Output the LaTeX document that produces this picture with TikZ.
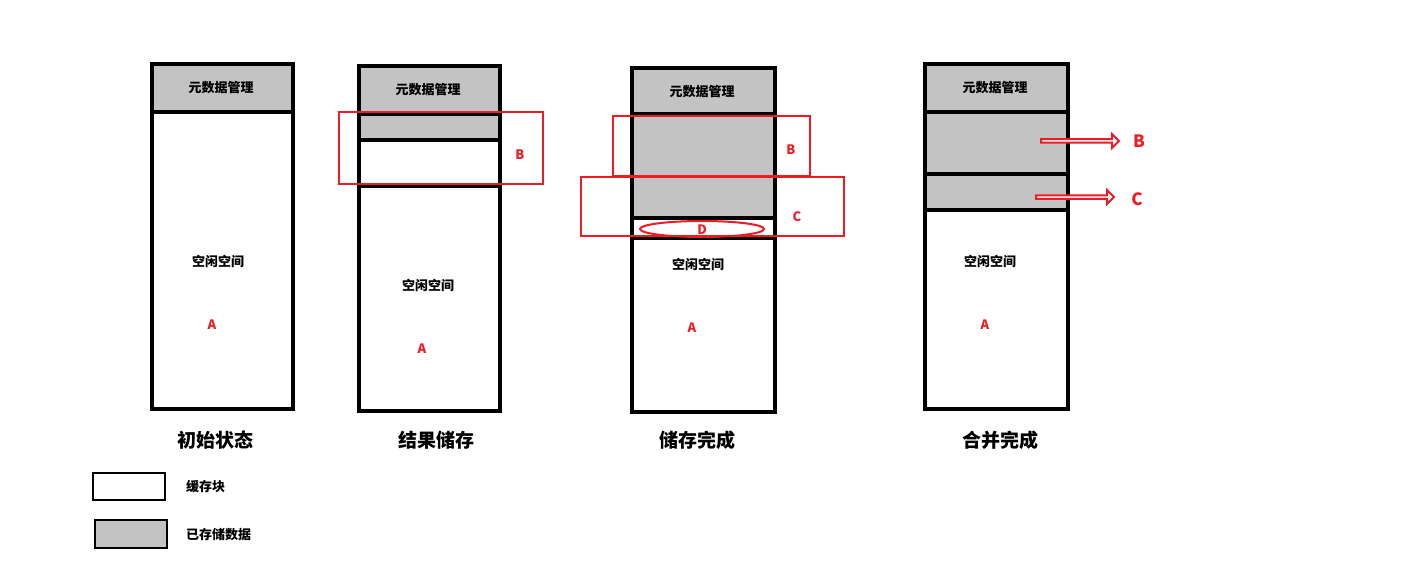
\documentclass[tikz,border=0pt]{standalone}
\usepackage{fontspec}
\setmainfont{Noto Sans CJK SC}
\usetikzlibrary{shapes.arrows}
\definecolor{gr}{RGB}{195,195,195}
\definecolor{rd}{RGB}{237,28,36}
\begin{document}
\begin{tikzpicture}[x=1pt,y=-1pt,
  blk/.style={draw=black,line width=4pt},
  sep/.style={draw=black,line width=3.5pt},
  redbox/.style={draw=rd,line width=2.5pt},
  txt/.style={font=\bfseries\fontsize{13}{13}\selectfont,inner sep=0pt},
  captxt/.style={font=\bfseries\fontsize{19}{19}\selectfont,inner sep=0pt},
  lt/.style={text=rd,font=\bfseries\fontsize{13}{13}\selectfont,inner sep=0pt},
  lb/.style={text=rd,font=\bfseries\fontsize{17}{17}\selectfont,inner sep=0pt},
  harrow/.style={single arrow,draw=rd,line width=2pt,fill=white,minimum height=78pt,minimum width=14pt,single arrow head extend=3pt,inner sep=0pt,anchor=west}]
\useasboundingbox (0,0) rectangle (1419,583);
% column 1
\fill[gr] (152,64) rectangle (293,112);
\draw[sep] (152,112) -- (293,112);
\draw[blk] (152,64) rectangle (293,409);
\node[txt] (h1) at (221,88) {元数据管理};
\node[txt] (f1) at (218,262) {空闲空间};
\node[lt] (a1) at (212,325) {A};
\node[captxt] (c1) at (215,440) {初始状态};
% column 2
\fill[gr] (359,66) rectangle (500,140);
\draw[sep] (359,114) -- (500,114);
\draw[sep] (359,140) -- (500,140);
\draw[sep] (359,186) -- (500,186);
\draw[blk] (359,66) rectangle (500,411);
\node[txt] (h2) at (428,90) {元数据管理};
\node[txt] (f2) at (428,286) {空闲空间};
\node[lt] (a2) at (422,349) {A};
\draw[redbox] (339,112) rectangle (543,184);
\node[lt] (b2) at (520,155) {B};
\node[captxt] (c2) at (436,440) {结果储存};
% column 3
\fill[gr] (632,68) rectangle (775,218);
\draw[sep] (632,114) -- (775,114);
\draw[sep] (632,218) -- (775,218);
\draw[sep] (632,238) -- (775,238);
\draw[blk] (632,68) rectangle (775,412);
\node[txt] (h3) at (702,92) {元数据管理};
\draw[redbox] (613,116) rectangle (810,176);
\draw[redbox] (581,177) rectangle (844,236);
\draw[rd,line width=2pt] (702,229) ellipse (62pt and 8pt);
\node[lt] (d3) at (702,230) {D};
\node[lt] (b3) at (791,150) {B};
\node[lt] (cc3) at (797,217) {C};
\node[txt] (f3) at (698,265) {空闲空间};
\node[lt] (a3) at (692,328) {A};
\node[captxt] (c3) at (697,440) {储存完成};
% column 4
\fill[gr] (925,64) rectangle (1068,210);
\draw[sep] (925,112) -- (1068,112);
\draw[sep] (925,174) -- (1068,174);
\draw[sep] (925,210) -- (1068,210);
\draw[blk] (925,64) rectangle (1068,409);
\node[txt] (h4) at (995,88) {元数据管理};
\node[harrow] (ar1) at (1040,141) {};
\node[harrow] (ar2) at (1035,197) {};
\node[lb] (b4) at (1139,141) {B};
\node[lb] (cc4) at (1137,199) {C};
\node[txt] (f4) at (990,262) {空闲空间};
\node[lt] (a4) at (985,325) {A};
\node[captxt] (c4) at (1000,440) {合并完成};
% legend
\draw[draw=black,line width=2.5pt] (93,473) rectangle (165,500);
\node[txt,anchor=west] (l1) at (186,487) {缓存块};
\draw[draw=black,line width=2.5pt,fill=gr] (95,520) rectangle (167,548);
\node[txt,anchor=west] (l2) at (186,535) {已存储数据};
\end{tikzpicture}
\end{document}
